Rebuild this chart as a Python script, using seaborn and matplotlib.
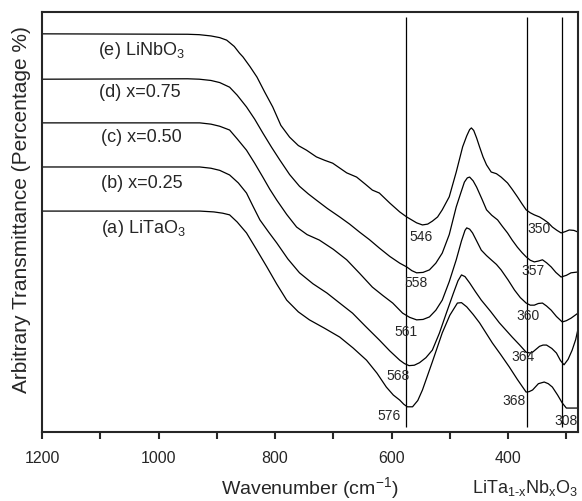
import pandas as pd
import matplotlib.pyplot as plt
import seaborn as sns

# FTIR spectra of LiTa(1-x)Nb(x)O3 (arbitrary units, offset)
wn_a = [1200, 950, 929, 905, 890, 878, 865, 849, 832, 814, 797, 780, 760, 741, 715, 689,
        666, 643, 625, 609, 597, 586, 579, 573, 564, 555, 547, 530, 513, 500, 487, 480,
        471, 460, 449, 438, 427, 413, 398, 384, 369, 364, 358, 348, 338, 331, 324, 315,
        307, 300, 290, 280]
tr_a = [52.6, 52.6, 52.6, 52.4, 52.1, 51.7, 50.0, 47.4, 43.5, 39.3, 35.2, 31.4, 28.6, 26.7, 24.7, 22.6,
        20.0, 17.1, 14.0, 10.7, 8.8, 7.6, 6.6, 6.0, 6.0, 7.5, 10.0, 16.7, 23.6, 27.8, 30.7, 30.8,
        29.8, 28.0, 26.0, 23.6, 21.2, 18.5, 15.5, 12.5, 9.5, 9.6, 10.0, 11.5, 11.9, 11.5, 10.7, 8.8,
        6.9, 5.7, 5.7, 5.7]

wn_b = [1200, 950, 929, 910, 895, 878, 863, 849, 838, 826, 811, 797, 778, 758, 735, 711,
        690, 667, 645, 621, 603, 586, 578, 570, 561, 552, 541, 530, 518, 506, 494, 486,
        480, 474, 466, 456, 446, 430, 415, 404, 393, 380, 369, 362, 358, 346, 340, 334,
        325, 317, 310, 304, 297, 290, 284, 280]
tr_b = [63.1, 63.1, 63.1, 62.8, 62.3, 61.2, 59.3, 56.9, 53.8, 50.5, 47.6, 45.0, 41.2, 37.9, 35.3, 33.1,
        30.8, 28.3, 25.2, 21.9, 19.3, 17.1, 16.3, 15.8, 15.9, 16.5, 17.7, 19.5, 23.5, 28.3, 33.0, 36.0,
        37.4, 37.0, 35.5, 33.4, 31.4, 28.7, 26.0, 24.3, 22.6, 20.7, 19.0, 18.8, 19.0, 20.4, 20.7, 20.7,
        19.9, 18.8, 17.0, 16.0, 17.3, 19.5, 22.0, 24.5]

wn_c = [1200, 950, 929, 910, 895, 878, 865, 849, 835, 821, 809, 797, 780, 763, 745, 724,
        700, 677, 655, 633, 615, 598, 581, 569, 557, 546, 535, 524, 513, 501, 489, 480,
        474, 471, 466, 461, 454, 446, 437, 429, 420, 412, 400, 389, 379, 369, 362, 355,
        348, 341, 334, 326, 317, 307, 300, 292, 280]
tr_c = [73.6, 73.6, 73.6, 73.3, 72.8, 71.9, 69.8, 67.1, 64.0, 60.7, 57.8, 55.2, 51.8, 48.8, 47.0, 45.7,
        43.5, 41.0, 37.8, 34.5, 32.5, 30.7, 28.3, 27.3, 26.7, 26.8, 27.4, 29.0, 31.4, 35.8, 41.0, 45.5,
        48.0, 48.6, 48.3, 47.4, 45.5, 43.3, 42.0, 41.0, 39.9, 38.6, 36.2, 33.8, 32.0, 30.7, 30.2, 30.2,
        30.6, 30.7, 30.0, 29.0, 27.5, 26.2, 26.5, 27.1, 28.3]

wn_d = [1200, 950, 930, 910, 895, 878, 865, 849, 835, 821, 806, 792, 775, 758, 743, 729,
        710, 689, 672, 655, 638, 621, 603, 586, 574, 565, 557, 546, 535, 524, 513, 501,
        489, 481, 475, 470, 466, 460, 454, 445, 437, 428, 418, 410, 401, 393, 384, 376,
        369, 362, 355, 348, 341, 334, 326, 318, 309, 300, 292, 280]
tr_d = [84.0, 84.1, 84.0, 83.7, 83.2, 82.1, 80.2, 77.4, 74.5, 71.2, 67.8, 64.8, 61.3, 58.5, 56.7, 55.2,
        53.2, 51.2, 49.5, 47.6, 45.8, 43.8, 41.8, 40.2, 39.3, 38.4, 37.9, 38.0, 38.6, 40.2, 42.6, 47.0,
        53.6, 57.0, 59.5, 60.5, 60.7, 59.8, 58.3, 55.5, 52.9, 51.6, 50.5, 49.0, 47.4, 45.7, 44.0, 42.7,
        41.7, 40.9, 40.5, 40.7, 41.0, 40.3, 39.3, 38.0, 36.9, 37.3, 37.9, 38.1]

wn_e = [1200, 950, 930, 910, 895, 883, 870, 861, 855, 843, 831, 818, 804, 790, 775, 760,
        746, 729, 715, 701, 677, 660, 645, 633, 621, 603, 586, 574, 557, 547, 538, 530,
        521, 513, 501, 489, 478, 471, 466, 463, 459, 454, 449, 443, 437, 429, 420, 412,
        401, 393, 384, 376, 369, 362, 355, 346, 338, 331, 324, 316, 309, 302, 295, 287, 280]
tr_e = [94.8, 94.7, 94.6, 94.3, 93.9, 93.3, 91.8, 90.2, 89.3, 87.0, 84.5, 81.0, 77.4, 73.0, 70.2, 68.2,
        67.1, 65.5, 64.7, 64.0, 61.7, 60.7, 59.0, 57.6, 56.9, 54.5, 52.4, 51.2, 49.8, 49.3, 49.5, 50.2,
        51.2, 52.9, 56.0, 61.9, 67.9, 70.5, 72.0, 72.4, 71.8, 70.0, 67.9, 65.5, 63.6, 61.9, 61.5, 60.7,
        59.3, 57.8, 56.0, 54.3, 52.9, 52.2, 51.7, 51.2, 50.5, 49.8, 48.8, 48.0, 47.4, 47.7, 48.1, 48.0, 47.6]

sample_names = ["(a) LiTaO$_3$", "(b) x=0.25", "(c) x=0.50", "(d) x=0.75", "(e) LiNbO$_3$"]
sample_label_pos = [(1099, 47.4), (1099, 58.1), (1099, 69.0), (1102, 79.8), (1104, 89.8)]

# vertical reference lines
ref_lines = [576, 368, 308]

# band position labels: text, wavenumber, transmittance
band_text = ["576", "568", "561", "558", "546", "368", "364", "360", "357", "350", "308"]
band_wn = [624, 609, 595, 578, 569, 410, 394, 386, 377, 367, 321]
band_tr = [3.8, 13.3, 23.8, 35.5, 46.4, 7.4, 17.9, 27.6, 38.3, 48.3, 2.6]

frames = []
for name, wn, tr in zip(sample_names, [wn_a, wn_b, wn_c, wn_d, wn_e], [tr_a, tr_b, tr_c, tr_d, tr_e]):
    frames.append(pd.DataFrame({"wavenumber": wn, "transmittance": tr, "sample": name}))
df = pd.concat(frames, ignore_index=True)

sns.set_style("ticks")
plt.rcParams["font.family"] = ["Liberation Sans", "DejaVu Sans"]
plt.rcParams["mathtext.fontset"] = "custom"
plt.rcParams["mathtext.rm"] = "Liberation Sans"
plt.rcParams["mathtext.it"] = "Liberation Sans:italic"

fig = plt.figure(figsize=(5.82, 5.01), dpi=100)
ax = fig.add_axes([42 / 582, 69 / 501, 536 / 582, 420 / 501])

sns.lineplot(data=df, x="wavenumber", y="transmittance", hue="sample",
             palette=["black"] * 5, estimator=None, sort=False,
             linewidth=0.9, legend=False, ax=ax)

ax.vlines(ref_lines, 1.2, 98.8, color="black", linewidth=0.9)

for name, (x, y) in zip(sample_names, sample_label_pos):
    ax.text(x, y, name, fontsize=13, ha="left", va="baseline")

for t, x, y in zip(band_text, band_wn, band_tr):
    ax.text(x, y, t, fontsize=10, ha="left", va="center")

ax.set_xlim(1200, 280)
ax.set_ylim(0, 100)
ax.set_xticks([1200, 1000, 800, 600, 400])
ax.set_xticks([1100, 900, 700, 500, 300], minor=True)
ax.set_yticks([])
ax.tick_params(axis="x", which="both", direction="out", length=5, width=1.5,
               labelsize=11.5, pad=9, top=False)
for spine in ax.spines.values():
    spine.set_linewidth(1.5)
    spine.set_visible(True)

ax.set_xlabel("Wavenumber (cm$^{-1}$)", fontsize=14)
ax.xaxis.set_label_coords(0.5, -0.133)
ax.xaxis.label.set_va("center")
ax.set_ylabel("Arbitrary Transmittance (Percentage %)", fontsize=15)
ax.yaxis.set_label_coords(-0.039, 0.529)
ax.yaxis.label.set_va("center")

fig.text(472 / 582, 1 - 488 / 501, r"LiTa$_{\text{1-x}}$Nb$_{\text{x}}$O$_{3}$",
         fontsize=13, ha="left", va="center")

fig.savefig("out.png", dpi=100)
